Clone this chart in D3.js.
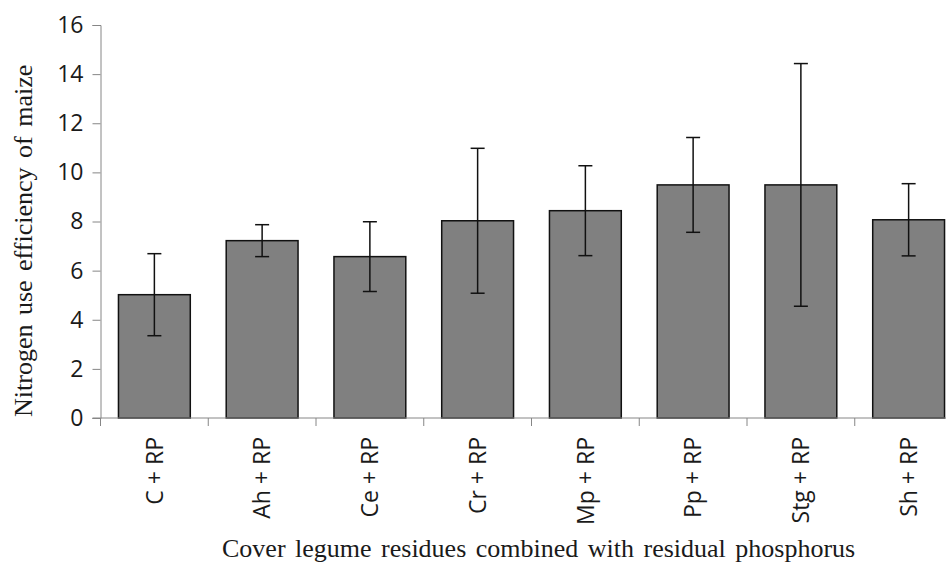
<!DOCTYPE html>
<html>
<head>
<meta charset="utf-8">
<script src="https://cdn.jsdelivr.net/npm/d3@7"></script>
<style>
  html, body { margin: 0; padding: 0; background: #fff; }
  svg { display: block; }
</style>
</head>
<body>
<svg id="chart" width="946" height="563"></svg>
<script>
const categories = ["C + RP", "Ah + RP", "Ce + RP", "Cr + RP", "Mp + RP", "Pp + RP", "Stg + RP", "Sh + RP"];
const means = [5.02, 7.22, 6.57, 8.03, 8.44, 9.49, 9.49, 8.07];
const errors = [1.67, 0.65, 1.42, 2.95, 1.83, 1.93, 4.94, 1.47];
const yTicks = [0, 2, 4, 6, 8, 10, 12, 14, 16];
const yTitle = "Nitrogen use efficiency of maize";
const xTitle = "Cover legume residues combined with residual phosphorus";

(function () {
const svg = d3.select("#chart");
const mLeft = 100.5, mRight = 962.5, mTop = 25, mBottom = 418;
const axisColor = "#868686";
const sans = "'Open Sans', sans-serif";
const serif = "'Liberation Serif', 'Times New Roman', serif";

const x = d3.scaleBand().domain(categories).range([mLeft, mRight]).padding(0);
const y = d3.scaleLinear().domain([0, 16]).range([mBottom, mTop]);
const bw = x.bandwidth();

// Y axis
const yAxis = svg.append("g").attr("transform", `translate(${mLeft},0)`)
  .call(d3.axisLeft(y).tickValues(yTicks).tickSize(8).tickPadding(9).tickFormat(d3.format("d")));
yAxis.select(".domain").attr("stroke", axisColor).attr("stroke-width", 1);
yAxis.selectAll(".tick line").attr("stroke", axisColor);
yAxis.selectAll("text").attr("font-family", sans).attr("font-size", 23).attr("fill", "#1a1a1a");

// Bars
const g = svg.append("g");
g.selectAll("rect").data(categories).join("rect")
  .attr("x", d => x(d) + bw / 6)
  .attr("width", bw * 2 / 3)
  .attr("y", (d, i) => y(means[i]))
  .attr("height", (d, i) => y(0) - y(means[i]))
  .attr("fill", "#808080")
  .attr("stroke", "#111")
  .attr("stroke-width", 1.5);

// Error bars
const eb = svg.append("g").attr("stroke", "#111").attr("stroke-width", 1.5);
categories.forEach((c, i) => {
  const cx = x(c) + bw / 2;
  const hi = y(means[i] + errors[i]), lo = y(means[i] - errors[i]);
  eb.append("line").attr("x1", cx).attr("x2", cx).attr("y1", hi).attr("y2", lo);
  eb.append("line").attr("x1", cx - 7).attr("x2", cx + 7).attr("y1", hi).attr("y2", hi);
  eb.append("line").attr("x1", cx - 7).attr("x2", cx + 7).attr("y1", lo).attr("y2", lo);
});

// X axis
const xAxisG = svg.append("g").attr("transform", `translate(0,${mBottom})`);
xAxisG.append("line").attr("x1", mLeft - 8).attr("x2", 946).attr("y1", 0).attr("y2", 0)
  .attr("stroke", axisColor);
const bounds = categories.map(c => x(c)).concat([x(categories[categories.length - 1]) + bw]);
xAxisG.selectAll("line.tk").data(bounds).join("line").attr("class", "tk")
  .attr("x1", d => d).attr("x2", d => d).attr("y1", 0).attr("y2", 8)
  .attr("stroke", axisColor);
xAxisG.selectAll("text").data(categories).join("text")
  .attr("transform", d => `translate(${x(d) + bw / 2},19) rotate(-90)`)
  .attr("text-anchor", "end")
  .attr("dy", "0.36em")
  .attr("font-family", sans).attr("font-size", 23).attr("fill", "#1a1a1a")
  .text(d => d);

// Titles
svg.append("text")
  .attr("transform", "translate(32,417) rotate(-90)")
  .attr("text-anchor", "start")
  .attr("font-family", serif).attr("font-size", 26).attr("word-spacing", 3).attr("fill", "#1a1a1a")
  .text(yTitle);
svg.append("text")
  .attr("x", 222).attr("y", 557)
  .attr("text-anchor", "start")
  .attr("font-family", serif).attr("font-size", 26).attr("word-spacing", 3).attr("fill", "#1a1a1a")
  .text(xTitle);
})();
</script>
</body>
</html>
